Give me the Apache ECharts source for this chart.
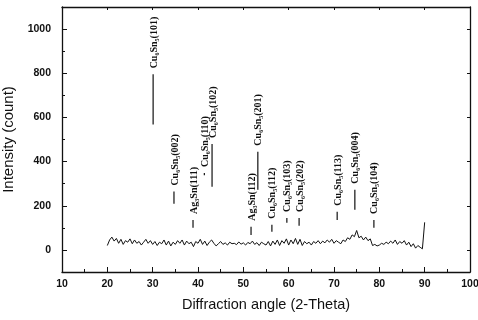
<!DOCTYPE html>
<html>
<head>
<meta charset="utf-8">
<script src="https://cdn.jsdelivr.net/npm/echarts@6/dist/echarts.min.js"></script>
<style>
  html, body { margin: 0; padding: 0; background: #fff; }
  #chart { width: 478px; height: 320px; }
</style>
</head>
<body>
<div id="chart"></div>
<script>
// XRD pattern, baseline scan every 0.5 deg from 20 to 90
let scanStart = 20;
let scanStep = 0.5;
let scanCounts = [
    20, 45, 58, 40, 52, 30, 48, 25, 42, 35,
    50, 28, 45, 30, 38, 22, 35, 48, 30, 42,
    25, 38, 20, 35, 28, 45, 22, 40, 18, 35,
    25, 42, 30, 45, 22, 40, 28, 35, 15, 38,
    30, 48, 25, 40, 20, 35, 45, 30, 18, 28,
    38, 25, 32, 22, 35, 28, 30, 24, 36, 26,
    32, 22, 34, 28, 40, 25, 33, 20, 35, 28,
    22, 38, 18, 40, 25, 45, 20, 42, 30, 50,
    22, 45, 28, 52, 25, 48, 20, 38, 28, 35,
    22, 38, 30, 42, 28, 40, 32, 45, 35, 48,
    30, 42, 35, 28, 45, 38, 55, 48, 68, 60,
    88, 55, 62, 45, 58, 42, 50, 20, 25, 18,
    22, 30, 25, 35, 28, 40, 30, 45, 25, 38,
    30, 42, 22, 35, 15, 28, 8, 20, 12, 5,
    125
];

// 标注的衍射峰
let peakNames = ['Cu₆Sn₅(101)', 'Cu₆Sn₅(002)', 'Ag₃Sn(111)', 'Cu₆Sn₅(110)', 'Cu₆Sn₅(102)',
    'Ag₃Sn(112)', 'Cu₆Sn₅(201)', 'Cu₆Sn₅(112)', 'Cu₆Sn₅(103)', 'Cu₆Sn₅(202)',
    'Cu₆Sn₅(113)', 'Cu₆Sn₅(004)', 'Cu₆Sn₅(104)'];
let peakAngles = [30.1, 34.7, 38.9, 41.4, 43.1, 51.7, 53.2, 56.3, 59.6, 62.3, 70.7, 74.6, 78.8];
let peakLow = [568, 209, 100, 338, 286, 68, 273, 82, 123, 109, 136, 182, 100];
let peakHigh = [795, 264, 136, 348, 480, 105, 445, 114, 145, 145, 173, 273, 136];

let xTicks = [10, 20, 30, 40, 50, 60, 70, 80, 90, 100];
let yTicks = [0, 200, 400, 600, 800, 1000];

let scanData = scanCounts.map(function(v, i) {
    return [scanStart + i * scanStep, v];
});
let peakData = peakAngles.map(function(a, i) {
    return [a, peakLow[i], peakHigh[i]];
});

let myChart = echarts.init(document.getElementById('chart'));
let ink = '#111';
let sans = '"Liberation Sans", Arial, sans-serif';
let narrow = '"Liberation Sans Narrow", "Liberation Sans", Arial, sans-serif';

function renderPeak(params, api) {
    let top = api.coord([api.value(0), api.value(2)]);
    let bottom = api.coord([api.value(0), api.value(1)]);
    return {
        type: 'group',
        children: [{
            type: 'line',
            shape: { x1: top[0], y1: top[1], x2: bottom[0], y2: bottom[1] },
            style: { stroke: ink, lineWidth: 1.2 }
        }, {
            type: 'text',
            x: top[0] + 1,
            y: top[1] - 6,
            rotation: Math.PI / 2,
            style: {
                text: peakNames[params.dataIndex],
                align: 'left',
                verticalAlign: 'middle',
                fontSize: 10,
                fontWeight: 'bold',
                fontFamily: '"Liberation Serif", "DejaVu Serif", serif',
                fill: ink
            }
        }]
    };
}

let option = {
    animation: false,
    grid: {
        left: 62,
        right: 8,
        top: 7,
        bottom: 48,
        outerBoundsMode: 'none'
    },
    xAxis: [{
        type: 'value',
        min: xTicks[0],
        max: xTicks[xTicks.length - 1],
        interval: 10,
        position: 'bottom',
        name: 'Diffraction angle (2-Theta)',
        nameLocation: 'middle',
        nameGap: 25,
        nameTextStyle: { color: ink, fontSize: 14.5, fontFamily: sans },
        axisLine: { onZero: false, lineStyle: { color: ink, width: 1.3 } },
        axisTick: { inside: true, length: 5, lineStyle: { color: ink } },
        minorTick: { show: true, splitNumber: 2, length: 3, lineStyle: { color: ink } },
        axisLabel: { color: ink, fontSize: 10.5, fontWeight: 'bold', margin: 7, fontFamily: narrow },
        splitLine: { show: false }
    }, {
        type: 'value',
        min: xTicks[0],
        max: xTicks[xTicks.length - 1],
        interval: 10,
        position: 'top',
        axisLine: { onZero: false, lineStyle: { color: ink, width: 1.3 } },
        axisTick: { inside: true, length: 3, lineStyle: { color: ink } },
        axisLabel: { show: false },
        splitLine: { show: false }
    }],
    yAxis: [{
        type: 'value',
        min: -100,
        max: 1100,
        position: 'left',
        name: 'Intensity (count)',
        nameLocation: 'middle',
        nameGap: 38,
        nameTextStyle: { color: ink, fontSize: 15, fontFamily: sans },
        axisLine: { onZero: false, lineStyle: { color: ink, width: 1.3 } },
        axisTick: { inside: true, length: 5, customValues: yTicks, lineStyle: { color: ink } },
        axisLabel: {
            color: ink, fontSize: 10.5, fontWeight: 'bold', margin: 11, customValues: yTicks, fontFamily: narrow,
            formatter: function(v) { return String(v); }
        },
        splitLine: { show: false }
    }, {
        type: 'value',
        min: -100,
        max: 1100,
        interval: 100,
        position: 'left',
        axisLine: { show: false, onZero: false },
        axisTick: { inside: true, length: 3, lineStyle: { color: ink } },
        axisLabel: { show: false },
        splitLine: { show: false }
    }, {
        type: 'value',
        min: -100,
        max: 1100,
        position: 'right',
        axisLine: { onZero: false, lineStyle: { color: ink, width: 1.3 } },
        axisTick: { inside: true, length: 3, customValues: yTicks, lineStyle: { color: ink } },
        axisLabel: { show: false },
        splitLine: { show: false }
    }],
    series: [{
        type: 'line',
        xAxisIndex: 0,
        yAxisIndex: 0,
        data: scanData,
        showSymbol: false,
        lineStyle: { color: ink, width: 1 }
    }, {
        type: 'custom',
        xAxisIndex: 0,
        yAxisIndex: 0,
        renderItem: renderPeak,
        encode: { x: 0, y: [1, 2] },
        data: peakData
    }]
};

myChart.setOption(option);
</script>
</body>
</html>
